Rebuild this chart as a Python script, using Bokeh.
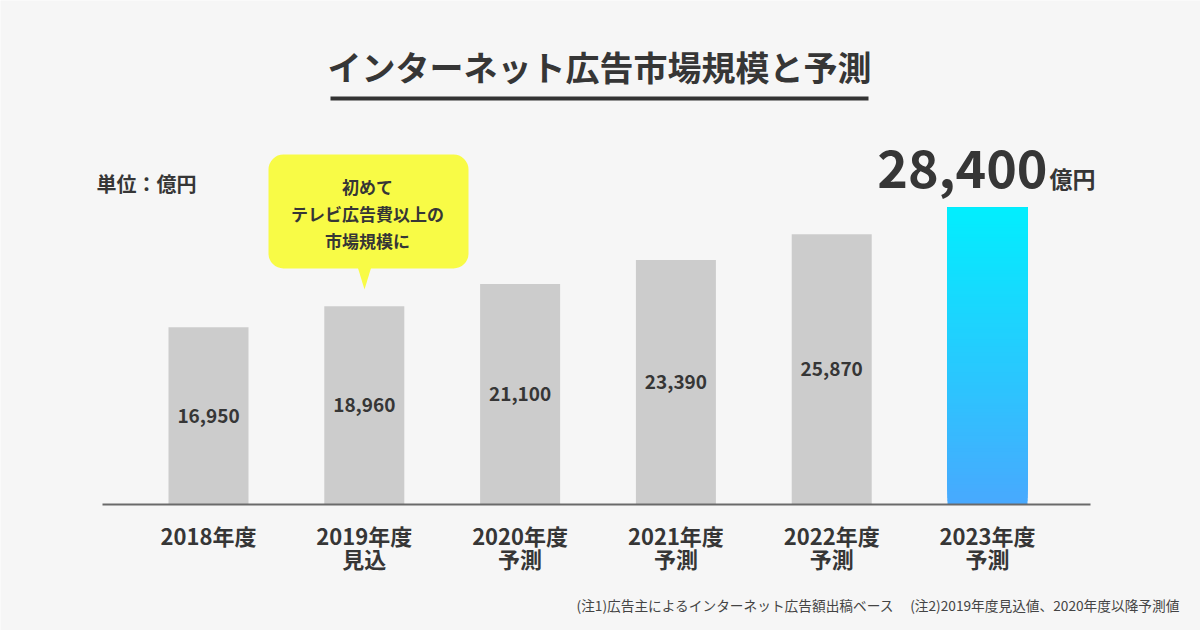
from bokeh.plotting import figure
from bokeh.models import Range1d, BoxAnnotation, ColumnDataSource
from bokeh.core.properties import value
from bokeh.embed import file_html
from bokeh.resources import INLINE

# ---- data ----
categories = ["2018年度", "2019年度\n見込", "2020年度\n予測", "2021年度\n予測", "2022年度\n予測", "2023年度\n予測"]
values = [16950, 18960, 21100, 23390, 25870, 28400]
value_labels = ["16,950", "18,960", "21,100", "23,390", "25,870"]
highlight_label = "28,400"
title_text = "インターネット広告市場規模と予測"
unit_text = "単位：億円"
callout_text = "初めて\nテレビ広告費以上の\n市場規模に"
footnote = "(注1)広告主によるインターネット広告額出稿ベース　 (注2)2019年度見込値、2020年度以降予測値"

W, H = 1200, 630
OFF = 0
FONT = value("Noto Sans CJK JP")
DARK = "#363636"

# pixel geometry of the data area (canvas coords)
X0_PX, STEP_PX = 208.0, 155.8      # x of first bar centre, spacing
BASE_PX, K = 504.0, 0.01045        # y (from top) of baseline, px per unit

def X(px):  # page px -> data x
    return (px - OFF - X0_PX) / STEP_PX

def Y(py):  # page px -> data y
    return (BASE_PX - (py - OFF)) / K

p = figure(width=W, height=H, output_backend="svg", toolbar_location=None,
           x_range=Range1d(-X0_PX / STEP_PX, (W - X0_PX) / STEP_PX),
           y_range=Range1d(-(H - BASE_PX) / K, BASE_PX / K),
           min_border=0, background_fill_color="#f6f6f6", border_fill_color="#f6f6f6")
p.axis.visible = False
p.grid.visible = False
p.outline_line_color = None

idx = list(range(len(values)))
bw = 80 / STEP_PX

# grey bars
gsrc = ColumnDataSource(dict(x=idx[:-1], top=values[:-1]))
p.vbar(x="x", top="top", bottom=0, width=bw, source=gsrc,
       fill_color="#cccccc", line_color=None)

# gradient bar (last) drawn as stacked overlapping slices
def lerp(c1, c2, t):
    a = [int(c1[i:i + 2], 16) for i in (1, 3, 5)]
    b = [int(c2[i:i + 2], 16) for i in (1, 3, 5)]
    return "#%02x%02x%02x" % tuple(round(a[j] + (b[j] - a[j]) * t) for j in range(3))

N = 90
v = values[-1]
bot = [v * j / N for j in range(N)]
tp = [v] * N
cols = [lerp("#48a9fe", "#02eefe", j / (N - 1)) for j in range(N)]
p.vbar(x=[idx[-1]] * N, bottom=bot, top=tp, width=bw, fill_color=cols, line_color=None)

# baseline
p.segment(x0=[X(102)], y0=[0], x1=[X(1090)], y1=[0], line_color="#6a6a6a", line_width=2)

# value labels inside bars
p.text(x=idx[:-1], y=[t / 2 for t in values[:-1]], text=value_labels,
       text_font=FONT, text_font_style="bold", text_font_size="19px",
       text_color=DARK, text_align="center", text_baseline="middle")

# highlight value
p.text(x=[X(1047)], y=[Y(168)], text=[highlight_label], text_font=FONT,
       text_font_style="bold", text_font_size="52px", text_color=DARK,
       text_align="right", text_baseline="middle")
p.text(x=[X(1049)], y=[Y(177)], text=["億円"], text_font=FONT,
       text_font_style="bold", text_font_size="23px", text_color=DARK,
       text_align="left", text_baseline="middle")

# category labels (one glyph per line)
line1 = [c.split("\n")[0] for c in categories]
sx = [i for i, c in enumerate(categories) if "\n" in c]
line2 = [categories[i].split("\n")[1] for i in sx]
p.text(x=idx, y=[Y(534)] * len(idx), text=line1, text_font=FONT,
       text_font_style="bold", text_font_size="22px", text_color=DARK,
       text_align="center", text_baseline="middle")
p.text(x=sx, y=[Y(557)] * len(sx), text=line2, text_font=FONT,
       text_font_style="bold", text_font_size="22px", text_color=DARK,
       text_align="center", text_baseline="middle")

# title + underline
p.text(x=[X(599)], y=[Y(66)], text=[title_text], text_font=FONT,
       text_font_style="bold", text_font_size="34px", text_color=DARK,
       text_align="center", text_baseline="middle")
p.segment(x0=[X(330)], y0=[Y(98)], x1=[X(868)], y1=[Y(98)], line_color="#333333", line_width=4)

# unit
p.text(x=[X(96)], y=[Y(183)], text=[unit_text], text_font=FONT,
       text_font_style="bold", text_font_size="20px", text_color=DARK,
       text_align="left", text_baseline="middle")

# callout
YEL = "#f8fb46"
box = BoxAnnotation(left=X(268), right=X(468), top=Y(154), bottom=Y(268),
                    fill_color=YEL, fill_alpha=1, line_color=None, border_radius=15,
                    level="underlay")
p.add_layout(box)
p.patch(x=[X(357), X(371), X(364)], y=[Y(266), Y(266), Y(289)], fill_color=YEL, line_color=None)
c_lines = callout_text.split("\n")
p.text(x=[X(367)] * len(c_lines), y=[Y(186 + 27 * i) for i in range(len(c_lines))], text=c_lines,
       text_font=FONT, text_font_style="bold", text_font_size="17px", text_color=DARK,
       text_align="center", text_baseline="middle")

# footnote
p.text(x=[X(1180)], y=[Y(604)], text=[footnote], text_font=FONT,
       text_font_size="13.7px", text_color="#444444",
       text_align="right", text_baseline="middle")

open("out.html", "w").write(file_html(p, INLINE))
